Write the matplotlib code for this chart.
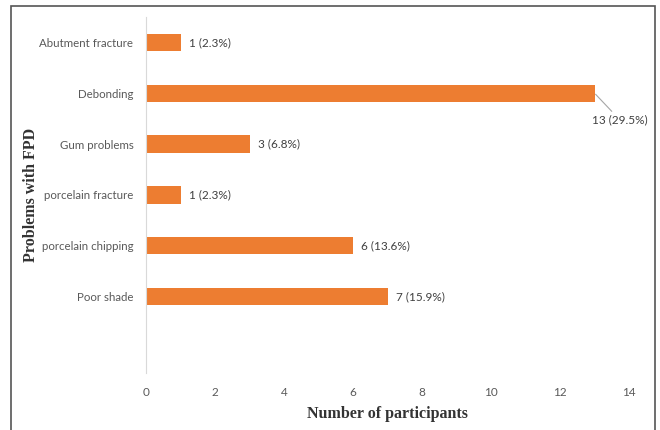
import matplotlib.pyplot as plt
from matplotlib.patches import Rectangle

# Data
categories = ["Abutment fracture", "Debonding", "Gum problems", "porcelain fracture",
              "porcelain chipping", "Poor shade", ""]
counts = [1, 13, 3, 1, 6, 7, 0]
labels = ["1 (2.3%)", "13 (29.5%)", "3 (6.8%)", "1 (2.3%)", "6 (13.6%)", "7 (15.9%)", ""]
xticks = [0, 2, 4, 6, 8, 10, 12, 14]

bar_color = "#ED7D31"
text_color = "#595959"
sans = ["Lato", "DejaVu Sans"]

fig = plt.figure(figsize=(6.6, 4.3), dpi=100)
ax = fig.add_axes([0.2212, 0.1326, 0.732, 0.828])

y = list(range(len(categories)))
ax.barh(y[:-1], counts[:-1], height=0.34, color=bar_color)
ax.set_ylim(len(categories) - 0.5, -0.5)
ax.set_xlim(0, 14)

ax.set_yticks(y)
ax.set_yticklabels(categories, family=sans, fontsize=8.3, color=text_color)
ax.set_xticks(xticks)
ax.set_xticklabels([str(t) for t in xticks], family=sans, fontsize=8.5, color=text_color)
ax.tick_params(axis="both", length=0)
ax.tick_params(axis="y", pad=9)
ax.tick_params(axis="x", pad=10)

for s in ["top", "right", "bottom"]:
    ax.spines[s].set_visible(False)
ax.spines["left"].set_color("#d9d9d9")

# value labels
for i, (c, lab) in enumerate(zip(counts, labels)):
    if not lab:
        continue
    if c == max(counts):
        ax.annotate(lab, xy=(c, i), xytext=(18, -19), textcoords="offset points",
                    ha="center", va="center", family=sans, fontsize=8.5, color="#404040",
                    arrowprops=dict(arrowstyle="-", color="#a6a6a6", lw=0.8,
                                    shrinkA=0, shrinkB=1))
    else:
        ax.annotate(lab, xy=(c, i), xytext=(6, 0), textcoords="offset points",
                    ha="left", va="center", family=sans, fontsize=8.5, color="#404040")

ax.set_xlabel("Number of participants", family="Liberation Serif", fontweight="bold",
              fontsize=11.5, color="#333333", labelpad=6)
ax.set_ylabel("Problems with FPD", family="Liberation Serif", fontweight="bold",
              fontsize=11.5, color="#333333")
ax.yaxis.set_label_coords(-0.222, 0.5)

# outer frame
fig.patches.append(Rectangle((0.0167, -0.05), 0.975, 1.036, transform=fig.transFigure,
                             fill=False, edgecolor="#555555", lw=1.2))

fig.savefig("out.png", dpi=100)
